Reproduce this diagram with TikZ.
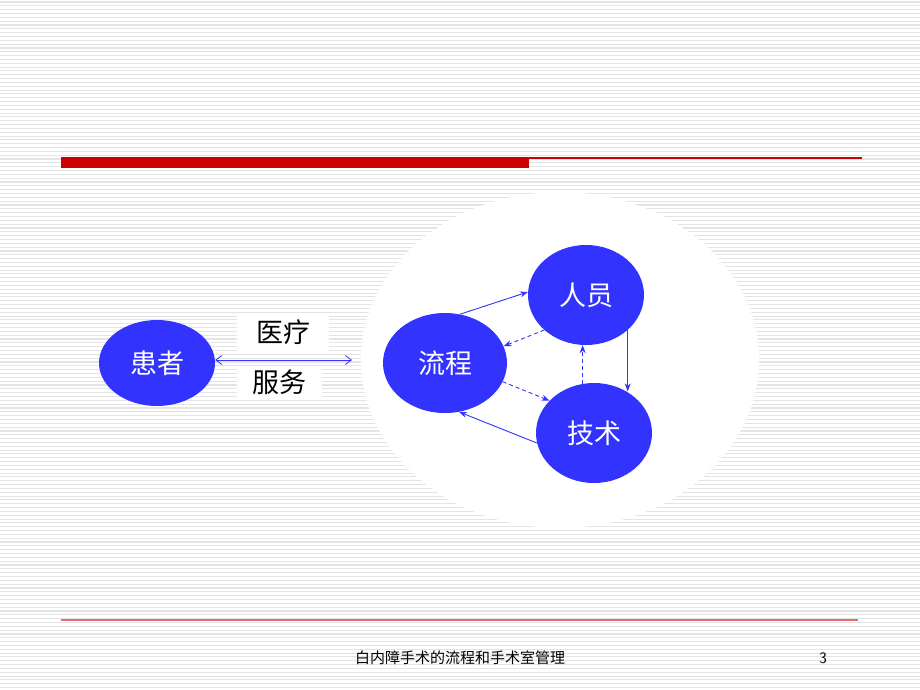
\documentclass[tikz,border=0pt]{standalone}
\usepackage{fontspec}
\newfontfamily\cjk{Noto Sans CJK SC}
\usetikzlibrary{arrows.meta,shapes.geometric}
\definecolor{nodeblue}{HTML}{3333FF}
\definecolor{barred}{HTML}{CC0000}
\definecolor{linered}{HTML}{E07070}
\definecolor{stripe}{HTML}{E4E4E4}
\tikzset{
  blob/.style={ellipse, fill=nodeblue, text=white, font=\cjk\fontsize{27}{27}\selectfont, inner sep=0pt},
  lbl/.style={fill=white, text=black, font=\cjk\fontsize{27}{27}\selectfont, inner sep=0pt},
  conn/.style={draw=nodeblue, line width=0.9pt, -{Stealth[length=8pt,width=6pt]}},
  dconn/.style={conn, dash pattern=on 4pt off 3pt},
}
\begin{document}
\begin{tikzpicture}[x=1pt,y=-1pt]
\useasboundingbox (0,0) rectangle (920,690);
\fill[white] (0,0) rectangle (920,690);
\foreach \i in {0,...,180} {
  \draw[stripe, line width=1.1pt] (0,{2+3.83*\i}) -- (920,{2+3.83*\i});
}
% white disc
\fill[white] (560,360) ellipse [x radius=199, y radius=168];
% top bar
\fill[barred] (61,157) rectangle (529,168);
\fill[barred] (529,156.5) rectangle (862,158.5);
% bottom line
\fill[linered] (61,619) rectangle (858,621);
% nodes
\node[blob, minimum width=116pt, minimum height=86pt] (pat) at (157,363) {患者};
\node[blob, minimum width=124pt, minimum height=100pt] (proc) at (445,363) {流程};
\node[blob, minimum width=116pt, minimum height=100pt] (staff) at (586,295) {人员};
\node[blob, minimum width=116pt, minimum height=100pt] (tech) at (594,433) {技术};
\node[lbl, minimum width=92pt, minimum height=39pt] (l1) at (283,332.5) {医疗};
\node[lbl, minimum width=85pt, minimum height=31pt] (l2) at (279.5,382.5) {服务};
\coordinate (arrR) at (352,360);
\draw[draw=nodeblue, line width=0.8pt, {Straight Barb[length=6pt,width=9pt]}-{Straight Barb[length=6pt,width=9pt]}] (pat.east |- arrR) -- (arrR);
% cycle connectors
\draw[conn] (proc.73) -- (staff.177);
\draw[dconn] (staff.220) -- (proc.16);
\draw[conn] (staff.320) -- (staff.320 |- tech.52);
\draw[dconn] (tech.103) -- (tech.103 |- staff.south);
\draw[dconn] (proc.342) -- (tech.144);
\draw[conn] (tech.190) -- (proc.286);
% footer
\node[font=\cjk\fontsize{15}{15}\selectfont, text=black] (foot) at (460,658) {白内障手术的流程和手术室管理};
\node[font=\fontsize{16}{16}\selectfont\sffamily, text=black] (page) at (823,658) {3};
\end{tikzpicture}
\end{document}
